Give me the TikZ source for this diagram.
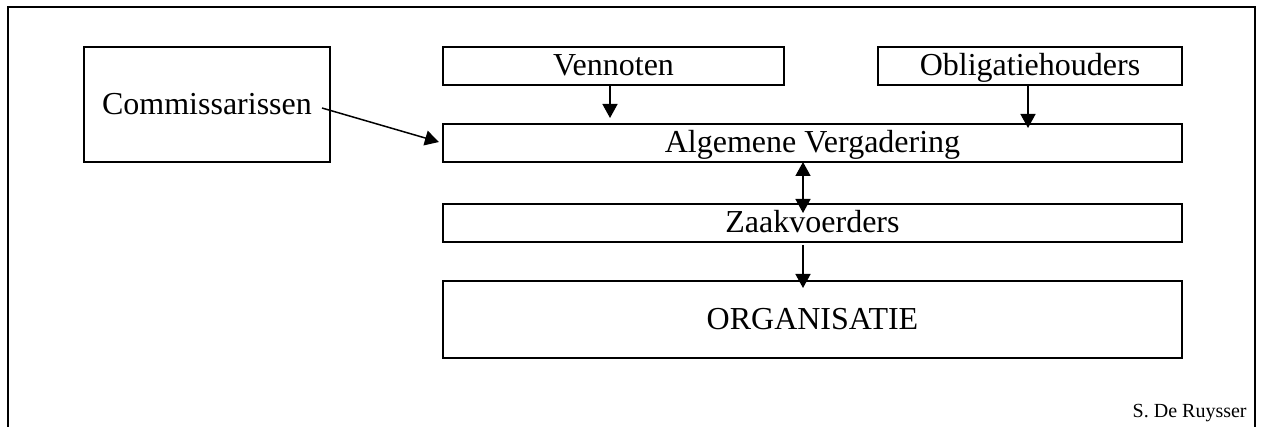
\documentclass[tikz,border=0pt]{standalone}
\usepackage{fontspec}
\setmainfont{Liberation Serif}
\usetikzlibrary{arrows.meta,positioning}
\tikzset{
  box/.style={draw, line width=1pt, inner sep=0pt, text height=10pt, text depth=0pt, font=\fontsize{16}{19}\selectfont},
  arr/.style={line width=0.75pt, -{Triangle[length=7pt,width=7.5pt]}},
  darr/.style={line width=0.75pt, {Triangle[length=7pt,width=7.5pt]}-{Triangle[length=7pt,width=7.5pt]}},
  frame/.style={line width=1pt}
}
\begin{document}
\begin{tikzpicture}[x=0.5pt,y=-0.5pt]
\useasboundingbox (0,0) rectangle (1263,427);
\draw[frame] (8,427) -- (8,7) -- (1255,7) -- (1255,427);
\node[box, minimum width=123pt, minimum height=57.5pt] (com) at (207,104.5) {Commissarissen};
\node[box, minimum width=170.5pt, minimum height=19pt] (ven) at (613.5,66) {Vennoten};
\node[box, minimum width=152pt, minimum height=19pt] (obl) at (1030,66) {Obligatiehouders};
\node[box, minimum width=369.5pt, minimum height=19pt] (av) at (812.5,143) {Algemene Vergadering};
\node[box, minimum width=369.5pt, minimum height=19pt] (zv) at (812.5,223) {Zaakvoerders};
\node[box, minimum width=369.5pt, minimum height=38.5pt] (org) at (812.5,319.5) {ORGANISATIE};
\node[anchor=base east, inner sep=0pt, font=\fontsize{10}{12}\selectfont] (sig) at (1247,417) {S. De Ruysser};
\coordinate (cs) at (322,108);
\draw[arr] (cs) -- ([xshift=-1.5pt,yshift=0.5pt]av.west);
\draw[arr, shorten >=2.5pt] (ven.south -| 610,0) -- (av.north -| 610,0);
\draw[arr, shorten >=-2.5pt] (obl.south -| 1028,0) -- (av.north -| 1028,0);
\draw[darr, shorten <=-0.5pt, shorten >=-5pt] (av.south -| 803,0) -- (zv.north -| 803,0);
\draw[arr, shorten <=1pt, shorten >=-4pt] (zv.south -| 803,0) -- (org.north -| 803,0);
\end{tikzpicture}
\end{document}
